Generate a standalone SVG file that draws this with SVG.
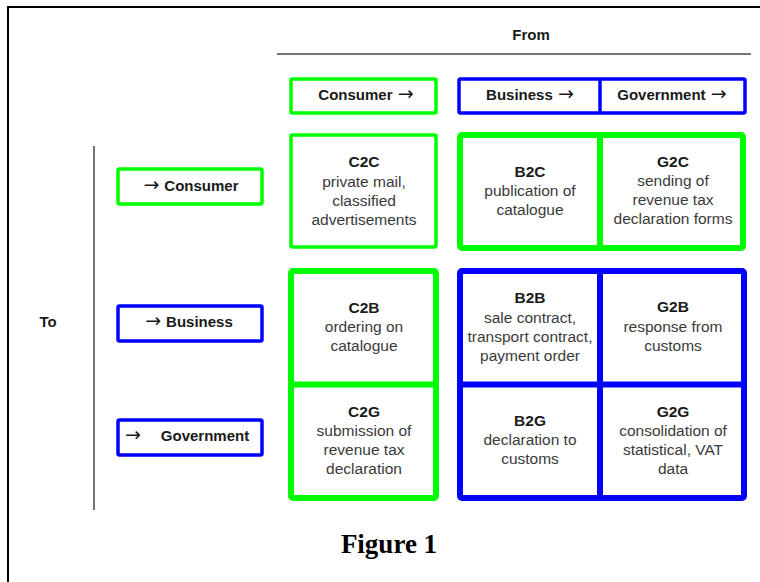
<svg xmlns="http://www.w3.org/2000/svg" width="760" height="582" viewBox="0 0 760 582">
  <style>
    .frame { fill: none; stroke: #000; stroke-width: 2; }
    .rule { stroke: #444; stroke-width: 1.5; }
    .g-thin { fill: #fff; stroke: #00ff00; stroke-width: 3.5; }
    .b-thin { fill: #fff; stroke: #0000ff; stroke-width: 3.5; }
    .g-thick { fill: #fff; stroke: #00ff00; stroke-width: 6; }
    .b-thick { fill: #fff; stroke: #0000ff; stroke-width: 6; }
    .g-div { stroke: #00ff00; stroke-width: 6; }
    .b-div { stroke: #0000ff; stroke-width: 6; }
    .b-div-thin { stroke: #0000ff; stroke-width: 3.5; }
    .lbl { font-family: "Liberation Sans", Arial, sans-serif; font-size: 15px; font-weight: bold; fill: #1a1a1a; text-anchor: middle; }
    .arr { font-family: "DejaVu Sans", sans-serif; font-weight: normal; font-size: 19px; }
    .ttl { font-family: "Liberation Sans", Arial, sans-serif; font-size: 15.5px; font-weight: bold; fill: #1a1a1a; text-anchor: middle; }
    .txt { font-family: "Liberation Sans", Arial, sans-serif; font-size: 15.5px; fill: #3a3a3a; text-anchor: middle; }
    .cap { font-family: "Liberation Serif", "Times New Roman", serif; font-size: 27px; font-weight: bold; fill: #000; text-anchor: middle; }
  </style>

  <rect width="760" height="582" fill="#fff"/>
  <!-- outer frame -->
  <rect class="frame" x="8" y="7" width="770" height="600"/>

  <!-- axis titles and guide lines -->
  <g id="axes">
    <text class="lbl" x="531" y="40">From</text>
    <line class="rule" x1="277" y1="54" x2="751" y2="54"/>
    <text class="lbl" x="48" y="327">To</text>
    <line class="rule" x1="94" y1="146" x2="94" y2="510"/>
  </g>

  <!-- column headers -->
  <g id="hdr-consumer">
    <rect class="g-thin" x="291" y="79" width="145" height="34" rx="1.5"/>
    <text class="lbl" x="366" y="100">Consumer <tspan class="arr" dx="1">→</tspan></text>
  </g>
  <g id="hdr-business-government">
    <rect class="b-thin" x="459" y="79" width="286" height="34" rx="1.5"/>
    <line class="b-div-thin" x1="600" y1="79" x2="600" y2="113"/>
    <text class="lbl" x="530" y="100">Business <tspan class="arr" dx="1">→</tspan></text>
    <text class="lbl" x="672" y="100">Government <tspan class="arr" dx="1">→</tspan></text>
  </g>

  <!-- row headers -->
  <g id="row-consumer">
    <rect class="g-thin" x="118" y="169" width="144" height="35" rx="1.5"/>
    <text class="lbl" x="191" y="191"><tspan class="arr">→</tspan><tspan dx="5">Consumer</tspan></text>
  </g>
  <g id="row-business">
    <rect class="b-thin" x="118" y="306" width="144" height="35" rx="1.5"/>
    <text class="lbl" x="189" y="327"><tspan class="arr">→</tspan><tspan dx="5">Business</tspan></text>
  </g>
  <g id="row-government">
    <rect class="b-thin" x="118" y="420" width="144" height="35" rx="1.5"/>
    <text class="lbl" x="133" y="441"><tspan class="arr">→</tspan></text>
    <text class="lbl" x="205" y="441">Government</text>
  </g>

  <!-- C2C -->
  <g id="c2c">
    <rect class="g-thin" x="291" y="135" width="145" height="112" rx="1.5"/>
    <text class="ttl" x="364" y="167">C2C</text>
    <text class="txt" x="364" y="187">private mail,</text>
    <text class="txt" x="364" y="206">classified</text>
    <text class="txt" x="364" y="225">advertisements</text>
  </g>

  <!-- B2C / G2C block -->
  <g id="to-consumer-block">
    <rect class="g-thick" x="460" y="135" width="283" height="113" rx="2"/>
    <line class="g-div" x1="600" y1="135" x2="600" y2="248"/>
  </g>
  <g id="b2c">
    <text class="ttl" x="530" y="177">B2C</text>
    <text class="txt" x="530" y="196">publication of</text>
    <text class="txt" x="530" y="215">catalogue</text>
  </g>
  <g id="g2c">
    <text class="ttl" x="673" y="167">G2C</text>
    <text class="txt" x="673" y="186">sending of</text>
    <text class="txt" x="673" y="205">revenue tax</text>
    <text class="txt" x="673" y="224">declaration forms</text>
  </g>

  <!-- C2B / C2G block -->
  <g id="from-consumer-block">
    <rect class="g-thick" x="291" y="271" width="145" height="227" rx="2"/>
    <line class="g-div" x1="291" y1="384.5" x2="436" y2="384.5"/>
  </g>
  <g id="c2b">
    <text class="ttl" x="364" y="313">C2B</text>
    <text class="txt" x="364" y="332">ordering on</text>
    <text class="txt" x="364" y="351">catalogue</text>
  </g>
  <g id="c2g">
    <text class="ttl" x="364" y="417">C2G</text>
    <text class="txt" x="364" y="436">submission of</text>
    <text class="txt" x="364" y="455">revenue tax</text>
    <text class="txt" x="364" y="474">declaration</text>
  </g>

  <!-- B2B / G2B / B2G / G2G block -->
  <g id="business-government-block">
    <rect class="b-thick" x="460" y="271" width="284" height="227" rx="2"/>
    <line class="b-div" x1="600" y1="271" x2="600" y2="498"/>
    <line class="b-div" x1="460" y1="384.5" x2="744" y2="384.5"/>
  </g>
  <g id="b2b">
    <text class="ttl" x="530" y="303">B2B</text>
    <text class="txt" x="530" y="322.5">sale contract,</text>
    <text class="txt" x="530" y="342">transport contract,</text>
    <text class="txt" x="530" y="361">payment order</text>
  </g>
  <g id="g2b">
    <text class="ttl" x="673" y="312">G2B</text>
    <text class="txt" x="673" y="331.5">response from</text>
    <text class="txt" x="673" y="351">customs</text>
  </g>
  <g id="b2g">
    <text class="ttl" x="530" y="426">B2G</text>
    <text class="txt" x="530" y="445">declaration to</text>
    <text class="txt" x="530" y="464">customs</text>
  </g>
  <g id="g2g">
    <text class="ttl" x="673" y="417">G2G</text>
    <text class="txt" x="673" y="436">consolidation of</text>
    <text class="txt" x="673" y="455">statistical, VAT</text>
    <text class="txt" x="673" y="474">data</text>
  </g>

  <!-- caption -->
  <text class="cap" x="389" y="553">Figure 1</text>

  <!-- connectors: none in this figure -->
  <g id="connectors"/>
</svg>
